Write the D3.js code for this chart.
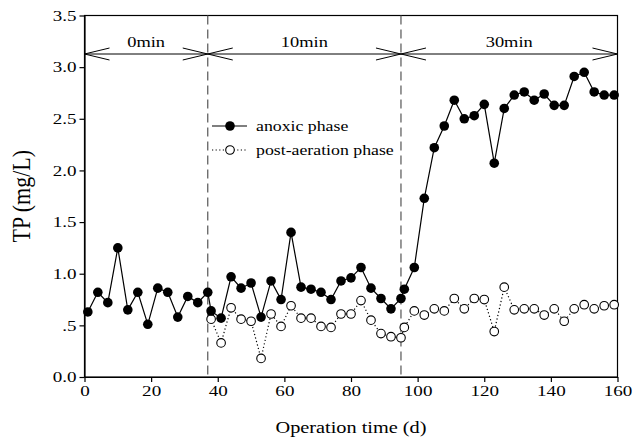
<!DOCTYPE html>
<html>
<head>
<meta charset="utf-8">
<script src="https://cdn.jsdelivr.net/npm/d3@7"></script>
<style>
  html, body { margin: 0; padding: 0; background: #fff; }
  svg { display: block; font-family: "Liberation Serif", "Times New Roman", serif; }
</style>
</head>
<body>
<svg id="chart" width="644" height="444"></svg>
<script>
// Sampling days: start-up (0 min aeration), 10 min and 30 min post-aeration
const daysPhase0 = [1, 4, 7, 10, 13, 16, 19, 22, 25, 28, 31, 34, 37];
const daysPhase10 = [38, 41, 44, 47, 50, 53, 56, 59, 62, 65, 68, 71, 74, 77, 80, 83, 86, 89, 92, 95];
const daysPhase30 = [96, 99, 102, 105, 108, 111, 114, 117, 120, 123, 126, 129, 132, 135, 138, 141, 144, 147, 150, 153, 156, 159];

// TP at the end of the anoxic phase (mg/L)
const anoxicPhase0 = [0.63, 0.82, 0.72, 1.25, 0.65, 0.82, 0.51, 0.86, 0.82, 0.58, 0.78, 0.72, 0.82];
const anoxicPhase10 = [0.64, 0.57, 0.97, 0.86, 0.91, 0.58, 0.93, 0.75, 1.40, 0.87, 0.85, 0.82, 0.75, 0.93, 0.96, 1.06, 0.86, 0.76, 0.66, 0.76];
const anoxicPhase30 = [0.85, 1.06, 1.73, 2.22, 2.43, 2.68, 2.50, 2.53, 2.64, 2.07, 2.60, 2.73, 2.76, 2.68, 2.74, 2.63, 2.63, 2.91, 2.95, 2.76, 2.73, 2.73];

// TP after the post-aeration phase (mg/L)
const postPhase10 = [0.56, 0.33, 0.67, 0.56, 0.54, 0.18, 0.61, 0.49, 0.69, 0.57, 0.57, 0.49, 0.48, 0.61, 0.61, 0.74, 0.55, 0.42, 0.39, 0.38];
const postPhase30 = [0.48, 0.64, 0.60, 0.66, 0.64, 0.76, 0.66, 0.76, 0.75, 0.44, 0.87, 0.65, 0.66, 0.66, 0.60, 0.66, 0.54, 0.66, 0.70, 0.66, 0.69, 0.70];

// Aeration-time periods
const phaseLabels = ["0min", "10min", "30min"];
const phaseBounds = [0, 37, 95, 160];

const xTicks = [0, 20, 40, 60, 80, 100, 120, 140, 160];
const yTicks = [0, 0.5, 1.0, 1.5, 2.0, 2.5, 3.0, 3.5];
const yTickLabels = ["0.0", ".5", "1.0", "1.5", "2.0", "2.5", "3.0", "3.5"];

const seriesNames = ["anoxic phase", "post-aeration phase"];

const anoxic = daysPhase0.concat(daysPhase10, daysPhase30).map((d, i) => ({
  day: d, tp: anoxicPhase0.concat(anoxicPhase10, anoxicPhase30)[i]
}));
const post = daysPhase10.concat(daysPhase30).map((d, i) => ({
  day: d, tp: postPhase10.concat(postPhase30)[i]
}));

const svg = d3.select("#chart");
const plotL = 84.5, plotR = 617.5, plotT = 15.5, plotB = 377;
const SX = 1.27; // horizontal text stretch

const x = d3.scaleLinear().domain([0, 160]).range([plotL, plotR]);
const y = d3.scaleLinear().domain([0, 3.5]).range([plotB, plotT]);

// Frame
svg.append("rect")
  .attr("x", plotL).attr("y", plotT)
  .attr("width", plotR - plotL).attr("height", plotB - plotT)
  .attr("fill", "none").attr("stroke", "#000").attr("stroke-width", 1.2);

// Axes
const xAxis = svg.append("g")
  .attr("transform", `translate(0,${plotB})`)
  .call(d3.axisBottom(x).tickValues(xTicks).tickSize(5).tickSizeOuter(0).tickFormat(d3.format("d")));
const yAxis = svg.append("g")
  .attr("transform", `translate(${plotL},0)`)
  .call(d3.axisLeft(y).tickValues(yTicks).tickSize(5).tickSizeOuter(0)
    .tickFormat((d, i) => yTickLabels[i]));

[xAxis, yAxis].forEach(g => {
  g.select(".domain").attr("stroke", "#000").attr("stroke-width", 1.2);
  g.selectAll(".tick line").attr("stroke", "#000").attr("stroke-width", 1.2);
  g.selectAll(".tick text")
    .attr("font-family", "Liberation Serif")
    .attr("font-size", 15)
    .attr("fill", "#000");
});
xAxis.selectAll(".tick text").attr("y", 7).attr("dy", "0.8em").attr("transform", `scale(${SX},1)`);
yAxis.selectAll(".tick text").attr("x", -8 / SX).attr("transform", `scale(${SX},1)`);

// Axis titles
svg.append("text")
  .attr("transform", `translate(${(plotL + plotR) / 2},433) scale(${SX},1)`)
  .attr("text-anchor", "middle")
  .attr("font-size", 16)
  .text("Operation time (d)");
svg.append("text")
  .attr("transform", `translate(30,${(plotT + plotB) / 2}) rotate(-90) scale(1,1.15)`)
  .attr("text-anchor", "middle")
  .attr("font-size", 22)
  .text("TP (mg/L)");

// Period dividers
svg.append("g").selectAll("line")
  .data(phaseBounds.slice(1, -1))
  .join("line")
  .attr("x1", d => x(d)).attr("x2", d => x(d))
  .attr("y1", plotT).attr("y2", plotB)
  .attr("stroke", "#555").attr("stroke-width", 1.2)
  .attr("stroke-dasharray", "9,5");

// Period arrows
const arrowY = 54, headLen = 25, headHalf = 6;
const arrows = svg.append("g").attr("stroke", "#000").attr("stroke-width", 1).attr("fill", "none");
arrows.append("line")
  .attr("x1", x(phaseBounds[0])).attr("x2", x(phaseBounds[phaseBounds.length - 1]))
  .attr("y1", arrowY).attr("y2", arrowY);
phaseLabels.forEach((lab, i) => {
  const x0 = x(phaseBounds[i]), x1 = x(phaseBounds[i + 1]);
  arrows.append("path")
    .attr("d", `M${x0 + headLen},${arrowY - headHalf}L${x0},${arrowY}L${x0 + headLen},${arrowY + headHalf}`);
  arrows.append("path")
    .attr("d", `M${x1 - headLen},${arrowY - headHalf}L${x1},${arrowY}L${x1 - headLen},${arrowY + headHalf}`);
  svg.append("text")
    .attr("transform", `translate(${(x0 + x1) / 2},47) scale(${SX},1)`)
    .attr("text-anchor", "middle")
    .attr("font-size", 14.5)
    .text(lab);
});

// Series
const line = d3.line().x(d => x(d.day)).y(d => y(d.tp));
svg.append("path").datum(post)
  .attr("d", line).attr("fill", "none")
  .attr("stroke", "#000").attr("stroke-width", 1.2).attr("stroke-dasharray", "1.2,2.4");
svg.append("path").datum(anoxic)
  .attr("d", line).attr("fill", "none")
  .attr("stroke", "#000").attr("stroke-width", 1.2);

svg.append("g").selectAll("circle")
  .data(post).join("circle")
  .attr("cx", d => x(d.day)).attr("cy", d => y(d.tp)).attr("r", 4.3)
  .attr("fill", "#fff").attr("stroke", "#000").attr("stroke-width", 1.1);
svg.append("g").selectAll("circle")
  .data(anoxic).join("circle")
  .attr("cx", d => x(d.day)).attr("cy", d => y(d.tp)).attr("r", 4.8)
  .attr("fill", "#000");

// Legend
const legend = svg.append("g").attr("transform", "translate(212,126)");
seriesNames.forEach((name, i) => {
  const row = legend.append("g").attr("transform", `translate(0,${i * 24})`);
  row.append("line")
    .attr("x1", 0).attr("x2", 35).attr("y1", 0).attr("y2", 0)
    .attr("stroke", "#000").attr("stroke-width", 1.2)
    .attr("stroke-dasharray", i === 0 ? null : "1.2,2.4");
  row.append("circle")
    .attr("cx", 18).attr("cy", 0).attr("r", i === 0 ? 4.8 : 4.3)
    .attr("fill", i === 0 ? "#000" : "#fff")
    .attr("stroke", "#000").attr("stroke-width", i === 0 ? 0 : 1.1);
  row.append("text")
    .attr("transform", `translate(44,5) scale(${SX},1)`)
    .attr("font-size", 14)
    .text(name);
});
</script>
</body>
</html>
